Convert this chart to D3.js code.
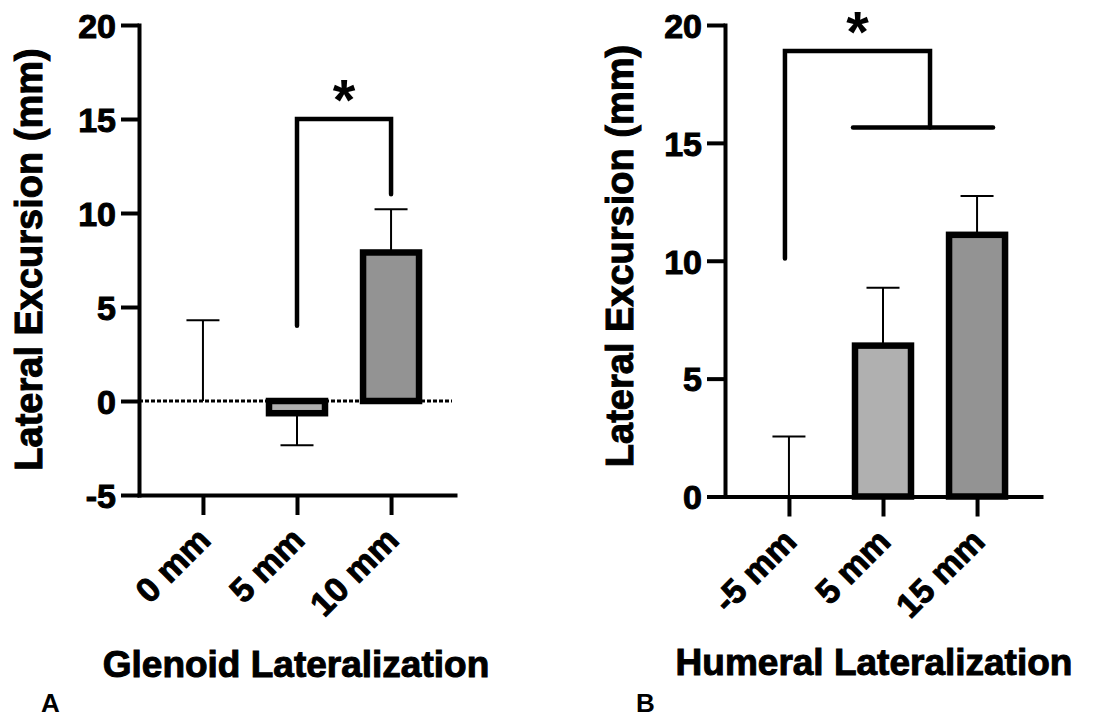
<!DOCTYPE html>
<html>
<head>
<meta charset="utf-8">
<script src="https://cdn.jsdelivr.net/npm/d3@7"></script>
<style>
  html, body { margin: 0; padding: 0; background: #fff; }
  svg { display: block; }
  text { font-family: "Liberation Sans", Arial, Helvetica, sans-serif; font-weight: bold; fill: #000; }
  text.heavy { stroke: #000; stroke-width: 1px; paint-order: stroke; }
</style>
</head>
<body>
<svg id="chart" width="1096" height="719"></svg>
<script>
// ---------------- Data ----------------
const glenoidCategories = ["0 mm", "5 mm", "10 mm"];
const glenoidMeans = [0, -0.65, 7.9];
const glenoidErrors = [4.3, 1.7, 2.3];
const glenoidTicks = [-5, 0, 5, 10, 15, 20];
const glenoidSigPair = ["5 mm", "10 mm"];
const glenoidSigLevels = [4.0, 15.0, 11.0];   // start, top, end
const glenoidTitle = "Glenoid Lateralization";

const humeralCategories = ["-5 mm", "5 mm", "15 mm"];
const humeralMeans = [0, 6.4, 11.1];
const humeralErrors = [2.55, 2.45, 1.65];
const humeralTicks = [0, 5, 10, 15, 20];
const humeralSigFrom = "-5 mm";
const humeralSigGroup = ["5 mm", "15 mm"];
const humeralSigLevels = [10.1, 18.9, 15.65]; // start, top, group line
const humeralTitle = "Humeral Lateralization";

const yLabel = "Lateral Excursion (mm)";
const sigMark = "*";
const panelLetters = ["A", "B"];

// ---------------- Styles ----------------
const barFills = ["#ffffff", "#b0b0b0", "#939393"];

const svg = d3.select("#chart");

function drawPanel(p) {
  const g = svg.append("g");
  const x = d3.scalePoint().domain(p.categories).range(p.xRange).padding(0.68);
  const y = d3.scaleLinear().domain(p.yDomain).range(p.yRange);

  const rows = p.categories.map((c, i) => ({ c, m: p.means[i], e: p.errors[i], fill: barFills[i] }));
  const dir = d => (d.m < 0 ? -1 : 1);

  // dotted zero line
  if (p.zeroLine) {
    g.append("line")
      .attr("x1", p.xRange[0]).attr("x2", p.xRange[1] - 3)
      .attr("y1", y(0)).attr("y2", y(0))
      .attr("stroke", "#000").attr("stroke-width", 3)
      .attr("stroke-dasharray", "4,2");
  }

  // error bars
  g.selectAll(".err").data(rows).join("line")
    .attr("x1", d => x(d.c)).attr("x2", d => x(d.c))
    .attr("y1", d => y(d.m)).attr("y2", d => y(d.m + dir(d) * d.e))
    .attr("stroke", "#000").attr("stroke-width", 2);
  g.selectAll(".cap").data(rows).join("line")
    .attr("x1", d => x(d.c) - 16.5).attr("x2", d => x(d.c) + 16.5)
    .attr("y1", d => y(d.m + dir(d) * d.e)).attr("y2", d => y(d.m + dir(d) * d.e))
    .attr("stroke", "#000").attr("stroke-width", 2);

  // bars
  const bw = 56;
  g.selectAll(".bar").data(rows.filter(d => d.m !== 0)).join("rect")
    .attr("x", d => x(d.c) - bw / 2).attr("width", bw)
    .attr("y", d => Math.min(y(0), y(d.m)))
    .attr("height", d => Math.abs(y(0) - y(d.m)))
    .attr("fill", d => d.fill)
    .attr("stroke", "#000").attr("stroke-width", 6.5)
    .attr("stroke-linejoin", "miter");

  // y axis
  const ya = g.append("g")
    .attr("transform", `translate(${p.xRange[0]},0)`)
    .call(d3.axisLeft(y).tickValues(p.ticks).tickSize(18).tickSizeOuter(0).tickPadding(5).tickFormat(d => String(d)));
  // x axis
  const xa = g.append("g")
    .attr("transform", `translate(0,${y(p.yDomain[0])})`)
    .call(d3.axisBottom(x).tickSize(20).tickSizeOuter(0));

  [ya, xa].forEach(a => {
    a.attr("font-family", null).attr("font-size", null);
    a.select(".domain").attr("stroke-width", 4).attr("stroke-linecap", "square");
    a.selectAll(".tick line").attr("stroke-width", 4);
    a.selectAll("text").style("font-size", "34px").attr("class", "heavy");
  });
  ya.selectAll(".tick text").attr("dy", "0.36em");
  xa.selectAll(".tick text")
    .attr("x", 0).attr("y", 0).attr("dy", 0)
    .attr("transform", "translate(9,47) rotate(-45)")
    .style("text-anchor", "end");

  // significance brackets
  const bs = { fill: "none", stroke: "#000", "stroke-width": 4.5, "stroke-linecap": "round", "stroke-linejoin": "miter" };
  const applyStyle = (sel) => { Object.entries(bs).forEach(([k, v]) => sel.attr(k, v)); return sel; };
  let starX, starTop;
  if (p.sigPair) {
    const x1 = x(p.sigPair[0]), x2 = x(p.sigPair[1]);
    const path = d3.path();
    path.moveTo(x1, y(p.sigLevels[0]));
    path.lineTo(x1, y(p.sigLevels[1]));
    path.lineTo(x2, y(p.sigLevels[1]));
    path.lineTo(x2, y(p.sigLevels[2]));
    applyStyle(g.append("path").attr("d", path.toString()));
    starX = (x1 + x2) / 2;
    starTop = y(p.sigLevels[1]) - 41;
  } else {
    const x1 = x(p.sigFrom) - 4;
    const gx1 = x(p.sigGroup[0]), gx2 = x(p.sigGroup[1]);
    const xm = (gx1 + gx2) / 2;
    const path = d3.path();
    path.moveTo(x1, y(p.sigLevels[0]));
    path.lineTo(x1, y(p.sigLevels[1]));
    path.lineTo(xm, y(p.sigLevels[1]));
    path.lineTo(xm, y(p.sigLevels[2]));
    applyStyle(g.append("path").attr("d", path.toString()));
    const p2 = d3.path();
    p2.moveTo(gx1 - 30, y(p.sigLevels[2]));
    p2.lineTo(gx2 + 16, y(p.sigLevels[2]));
    applyStyle(g.append("path").attr("d", p2.toString()));
    starX = (x1 + xm) / 2;
    starTop = y(p.sigLevels[1]) - 40;
  }
  const starSize = 58;
  g.append("text")
    .attr("x", starX).attr("y", starTop + 0.716 * starSize)
    .attr("text-anchor", "middle")
    .style("font-size", starSize + "px")
    .text(sigMark);

  // y label
  g.append("text")
    .attr("class", "heavy")
    .attr("transform", `translate(${p.yLabelX},${p.yLabelY}) rotate(-90)`)
    .attr("text-anchor", "middle")
    .style("font-size", "38px")
    .text(yLabel);

  // x title
  g.append("text")
    .attr("class", "heavy")
    .attr("x", p.titleX).attr("y", p.titleY)
    .attr("text-anchor", "middle")
    .style("font-size", "37px")
    .text(p.title);

  // panel letter
  g.append("text")
    .attr("x", p.letterX).attr("y", p.letterY)
    .style("font-size", "26px")
    .text(p.letter);
}

drawPanel({
  categories: glenoidCategories, means: glenoidMeans, errors: glenoidErrors, ticks: glenoidTicks,
  yDomain: [-5, 20], yRange: [495, 25], xRange: [139, 455], zeroLine: true,
  sigPair: glenoidSigPair, sigLevels: glenoidSigLevels,
  title: glenoidTitle, titleX: 296, titleY: 677,
  yLabelX: 42, yLabelY: 259.5,
  letter: panelLetters[0], letterX: 41, letterY: 712
});

drawPanel({
  categories: humeralCategories, means: humeralMeans, errors: humeralErrors, ticks: humeralTicks,
  yDomain: [0, 20], yRange: [496.5, 25], xRange: [725, 1041], zeroLine: false,
  sigFrom: humeralSigFrom, sigGroup: humeralSigGroup, sigLevels: humeralSigLevels,
  title: humeralTitle, titleX: 874, titleY: 675,
  yLabelX: 633, yLabelY: 256,
  letter: panelLetters[1], letterX: 636, letterY: 711.5
});
</script>
</body>
</html>
